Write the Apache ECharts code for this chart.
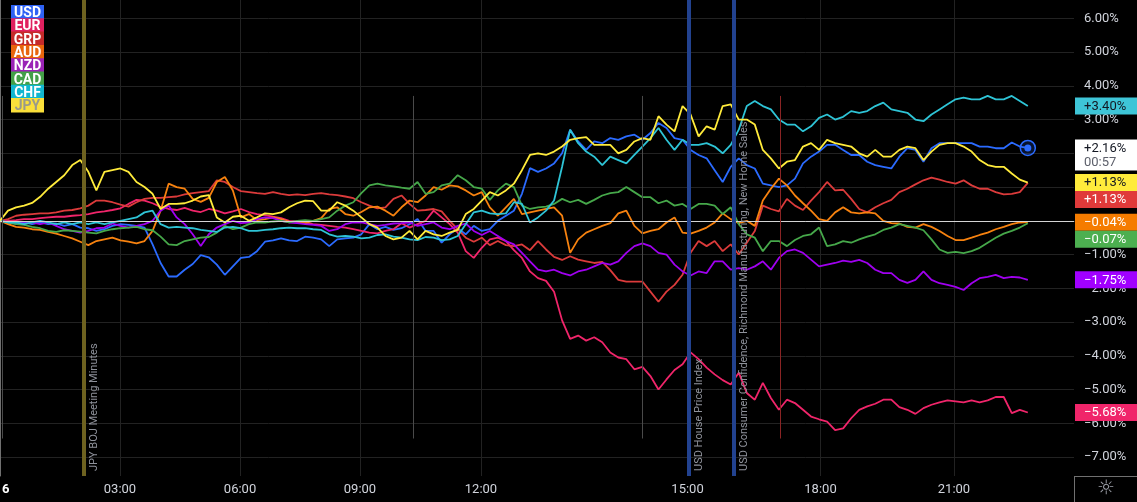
<!DOCTYPE html>
<html><head><meta charset="utf-8">
<script src="https://cdn.jsdelivr.net/npm/echarts@6/dist/echarts.min.js"></script>
<style>html,body{margin:0;padding:0;background:#000;overflow:hidden}#c{width:1137px;height:502px}</style>
</head><body><div id="c"></div>
<script>
// ---- data (percent change, one value per bar) ----
const currencies = ['USD','EUR','GRP','AUD','NZD','CAD','CHF','JPY'];
const usd = [
 0,-0.05,-0.08,-0.05,-0.1,-0.05,-0.1,-0.08,-0.15,-0.1,-0.2,-0.22,-0.3,-0.25,-0.15,-0.1,
 -0.12,-0.15,-0.2,-0.7,-1.25,-1.65,-1.65,-1.45,-1.28,-1.02,-1.08,-1.3,-1.6,-1.35,-1.1,-1.07,
 -0.9,-0.62,-0.58,-0.52,-0.58,-0.6,-0.47,-0.5,-0.55,-0.75,-0.55,-0.52,-0.5,-0.4,-0.1,-0.25,
 -0.18,-0.27,-0.22,-0.1,0.05,-0.3,-0.3,-0.65,-0.4,-0.22,-0.4,-0.15,-0.3,-0.25,0,0.15,
 0.3,0.8,1.56,1.45,1.55,1.7,2.0,2.7,2.35,2.1,2.35,2.3,2.45,2.4,2.5,2.55,
 2.4,2.6,2.9,2.75,2.45,2.4,2.1,1.95,1.85,1.5,1.15,1.6,1.85,1.65,1.55,1.1,
 1.05,1.0,1.05,1.25,1.7,1.9,2.05,2.25,2.25,2.1,1.95,1.95,1.75,1.65,1.6,1.55,
 1.9,2.15,2.1,1.75,2.15,2.3,2.3,2.3,2.3,2.3,2.2,2.2,2.15,2.15,2.32,2.2,
 2.16];
const eur = [
 0,0,0.02,0.05,0.05,0.08,0.1,0.12,0.12,0.15,0.17,0.2,0.25,0.28,0.32,0.37,
 0.5,0.62,0.6,0.52,0.41,0.35,0.32,0.38,0.3,0.26,0.35,0.3,0.22,0.28,0.35,0.26,
 0.2,0.17,0.12,0.08,0,-0.02,-0.07,-0.1,-0.12,-0.15,-0.18,-0.2,-0.25,-0.3,-0.35,-0.37,
 -0.3,-0.25,-0.07,-0.2,-0.1,0,0.3,0.1,-0.1,-0.35,-0.9,-1.1,-0.8,-0.55,-0.5,-0.6,
 -0.87,-1.1,-1.5,-1.7,-1.78,-2.1,-2.95,-3.5,-3.4,-3.55,-3.45,-3.6,-3.9,-4.05,-4.1,-4.4,
 -4.33,-4.6,-5.0,-4.7,-4.42,-4.25,-3.9,-4.1,-4.35,-4.55,-4.72,-4.85,-4.5,-5.1,-5.3,-4.8,
 -5.25,-5.6,-5.3,-5.4,-5.6,-5.8,-5.88,-5.95,-6.2,-6.15,-5.85,-5.6,-5.5,-5.42,-5.3,-5.3,
 -5.52,-5.6,-5.72,-5.55,-5.45,-5.38,-5.32,-5.35,-5.38,-5.32,-5.38,-5.32,-5.22,-5.22,-5.7,-5.6,
 -5.68];
const grp = [
 0,0.05,0.15,0.18,0.2,0.22,0.22,0.25,0.3,0.32,0.37,0.45,0.6,0.6,0.55,0.48,
 0.42,0.55,0.65,0.68,0.68,0.7,0.72,0.78,0.82,0.85,0.88,1.2,1.15,1.0,0.88,0.85,
 0.82,0.8,0.85,0.8,0.76,0.78,0.76,0.8,0.82,0.78,0.76,0.72,0.67,0.55,0.45,0.37,
 0.4,0.65,0.75,0.5,0.3,0.32,0.35,0.28,0,-0.25,-0.5,-0.62,-0.5,-0.72,-0.6,-0.72,
 -0.75,-0.7,-0.87,-0.6,-0.85,-1.07,-1.16,-1.05,-1.15,-1.2,-1.25,-1.22,-1.46,-1.75,-1.8,-1.8,
 -1.8,-2.1,-2.4,-2.1,-1.9,-1.6,-0.95,-0.6,-0.75,-0.6,-0.9,-0.7,-1.0,-0.65,-0.3,0.45,
 0.35,0.28,0.65,0.45,0.32,0.6,0.85,1.15,0.9,0.92,0.65,0.35,0.25,0.4,0.52,0.62,
 0.85,0.95,1.08,1.2,1.28,1.22,1.15,1.1,1.2,1.05,0.95,0.95,0.85,0.78,0.8,0.85,
 1.126];
const aud = [
 0,-0.1,-0.18,-0.2,-0.25,-0.27,-0.33,-0.38,-0.45,-0.52,-0.62,-0.72,-0.6,-0.55,-0.5,-0.58,
 -0.62,-0.67,-0.6,-0.3,0.3,1.1,1.0,0.95,0.65,0.56,0.68,1.15,1.3,0.9,0.1,0.2,
 0.02,0.05,0.1,0.05,-0.03,-0.05,-0.07,0,0.08,0.35,0.4,0.2,0.15,0.26,0.4,0.42,
 0.3,0.15,0.4,0.6,0.55,0.75,1.0,0.92,1.05,1.02,0.9,0.75,0.85,0.4,0.15,0.4,
 0.65,0.2,0.25,0.3,0.35,0.4,0.15,-0.95,-0.55,-0.35,-0.25,-0.15,-0.07,0.22,0.3,-0.15,
 -0.37,-0.3,-0.25,-0.05,0.1,-0.35,-0.38,-0.3,-0.2,-0.05,0.22,0.05,-0.07,0,-0.15,0.6,
 0.95,1.25,1.05,0.75,0.52,0.3,0.05,0,0.25,0.4,0.25,0.22,0.25,0.22,0,-0.07,
 -0.08,-0.18,-0.2,-0.1,-0.18,-0.3,-0.45,-0.57,-0.57,-0.5,-0.42,-0.35,-0.25,-0.18,-0.1,-0.05,
 -0.04];
const nzd = [
 0,-0.03,-0.05,-0.08,-0.05,-0.1,-0.05,-0.15,-0.25,-0.3,-0.35,-0.3,-0.22,-0.2,-0.08,-0.15,
 -0.2,-0.15,-0.1,0,0.3,0.45,0.1,-0.1,-0.4,-0.75,-0.4,-0.2,-0.1,0,-0.07,-0.05,
 0.05,0.1,0.08,0,-0.05,-0.07,-0.1,-0.12,-0.15,-0.3,-0.25,-0.1,-0.05,-0.05,-0.1,-0.15,
 -0.12,-0.08,-0.07,-0.05,-0.15,-0.1,-0.05,-0.2,-0.25,-0.15,-0.08,-0.3,-0.42,-0.3,-0.45,-0.6,
 -0.7,-0.95,-1.2,-1.45,-1.5,-1.45,-1.55,-1.62,-1.5,-1.45,-1.35,-1.25,-1.3,-1.2,-0.95,-0.75,
 -0.67,-0.75,-0.95,-1.0,-1.3,-1.5,-1.62,-1.5,-1.55,-1.2,-1.2,-1.45,-1.4,-1.45,-1.35,-1.2,
 -1.45,-1.1,-0.9,-0.85,-0.95,-1.15,-1.35,-1.3,-1.25,-1.18,-1.22,-1.16,-1.25,-1.45,-1.55,-1.55,
 -1.75,-1.84,-1.75,-1.5,-1.75,-1.85,-1.9,-1.96,-2.05,-1.85,-1.7,-1.66,-1.6,-1.7,-1.66,-1.68,
 -1.75];
const cad = [
 0,-0.05,-0.1,-0.12,-0.18,-0.22,-0.3,-0.33,-0.28,-0.3,-0.32,-0.35,-0.37,-0.3,-0.25,-0.22,
 -0.2,-0.18,-0.25,-0.28,-0.47,-0.7,-0.72,-0.6,-0.55,-0.5,-0.48,-0.35,-0.15,-0.25,-0.2,-0.1,
 -0.05,-0.05,-0.02,0,-0.05,0,0.02,0,0.05,0.1,0.3,0.45,0.55,0.82,1.05,1.1,
 1.05,1.02,0.98,0.95,1.15,0.8,0.85,1.05,1.1,1.35,1.2,1.0,0.95,0.62,0.9,1.1,
 1.0,0.45,0.35,0.4,0.42,0.5,0.65,0.55,0.62,0.5,0.62,0.75,0.82,0.85,1.0,0.85,
 0.7,0.7,0.52,0.6,0.45,0.5,0.35,0.5,0.5,0.45,0.2,0.4,-0.1,-0.4,-0.5,-0.9,
 -0.6,-0.6,-0.75,-0.57,-0.45,-0.4,-0.2,-0.75,-0.7,-0.6,-0.65,-0.55,-0.47,-0.4,-0.27,-0.2,
 -0.1,-0.15,-0.2,-0.28,-0.55,-0.85,-0.95,-0.92,-0.96,-0.9,-0.8,-0.65,-0.5,-0.38,-0.3,-0.2,
 -0.07];
const chf = [
 0,-0.05,-0.05,-0.1,-0.05,0,-0.05,-0.1,-0.05,-0.1,-0.05,-0.1,-0.05,-0.1,-0.05,0,
 0.05,0.1,0.25,0.3,-0.1,-0.2,-0.18,-0.2,-0.22,-0.27,-0.3,-0.33,-0.2,-0.18,-0.22,-0.3,
 -0.3,-0.27,-0.25,-0.22,-0.2,-0.22,-0.22,-0.25,-0.27,-0.4,-0.47,-0.45,-0.47,-0.52,-0.5,-0.42,
 -0.4,-0.47,-0.5,-0.55,-0.57,-0.48,-0.5,-0.57,-0.55,-0.45,-0.1,0.25,0.3,0.22,0.2,0.22,
 0.55,0.5,-0.05,0.1,0.3,0.6,1.6,2.7,2.3,2.05,1.9,1.65,1.9,1.8,1.7,1.95,
 2.2,2.45,2.75,2.4,2.1,2.4,2.25,2.25,2.3,2.2,2.0,2.25,2.7,3.4,3.55,3.4,
 3.3,3.0,2.85,2.85,2.65,2.8,3.05,3.15,3.0,3.08,3.25,3.2,3.25,3.4,3.5,3.3,
 3.25,3.2,3.0,2.95,3.15,3.3,3.45,3.6,3.65,3.6,3.6,3.7,3.6,3.6,3.7,3.55,
 3.40];
const jpy = [
 0,0.3,0.4,0.45,0.53,0.71,0.95,1.15,1.35,1.65,1.8,1.45,0.9,1.45,1.5,1.55,
 1.45,1.15,1.0,0.8,0.35,0.5,0.5,0.52,0.6,0.72,0.76,0.1,-0.05,0.12,0.15,0,
 0.1,0.22,0.2,0.25,0.4,0.52,0.6,0.58,0.3,0.3,0.55,0.45,0.3,0.1,-0.1,-0.2,
 -0.45,-0.55,-0.5,-0.3,-0.55,-0.3,-0.4,-0.45,-0.35,-0.27,0.2,0.35,0.6,0.85,0.75,0.9,
 1.1,1.5,1.95,2.0,1.95,2.05,2.2,2.4,2.45,2.48,2.25,2.25,2.25,2.0,2.1,2.35,
 2.45,2.4,3.1,2.85,2.65,3.4,3.15,2.5,2.8,2.7,3.4,3.45,3.0,3.0,2.85,2.1,
 1.85,1.55,1.75,1.8,2.2,2.3,2.1,2.4,2.3,2.25,2.2,2.0,1.9,2.1,1.9,1.9,
 2.1,2.2,2.15,1.8,2.05,2.25,2.3,2.3,2.2,2.05,1.8,1.65,1.6,1.6,1.4,1.22,
 1.134];
const seriesValues = [usd, eur, grp, aud, nzd, cad, chf, jpy];

// time axis (bar index at which each time label falls)
const tickLabels = ['03:00','06:00','09:00','12:00','15:00','18:00','21:00'];
const tickBars   = [14.94, 29.89, 44.83, 59.9, 85.62, 102.18, 118.8];
const yTicks = [-7,-6,-5,-4,-3,-2,-1,0,1,2,3,4,5,6];
// events (bar index)
const eventBars   = [10.46, 85.8, 91.4];
const eventLabels = ['JPY BOJ Meeting Minutes','USD House Price Index','USD Consumer Confidence, Richmond Manufacturing, New Home Sales'];
const sessionBars = [0.25, 51.43, 79.95];
const redLineBar = 97.13;
const countdown = '00:57';

// ---- styles ----
const lineColors = ['#2b6bff','#f0256a','#dc3b3b','#f7820f','#a000f0','#46a84a','#2ec4d6','#ffeb3b'];
const legendColors = ['#2e62f5','#e0205f','#c42a2a','#e8650c','#9a22b5','#43a047','#12b6cf','#fbe03a'];
const tagBg   = ['#ffffff','#f0256a','#e03a3a','#f57c00','#a100ff','#4caf50','#3ec5d7','#ffeb3b'];
const tagText = ['#131722','#ffffff','#ffffff','#ffffff','#ffffff','#ffffff','#131722','#131722'];

const X_MAX = 133.75, Y_MIN = -7.561, Y_MAX = 6.542;
const FONT = 'Roboto, "Liberation Sans", sans-serif';
const pct = v => (v > 0 ? '+' : v < 0 ? '\u2212' : '') + Math.abs(v).toFixed(2) + '%';
const axisPct = v => (v < 0 ? '\u2212' : '') + Math.abs(v).toFixed(2) + '%';

const chart = echarts.init(document.getElementById('c'));

const lineSeries = currencies.map((c, i) => ({
  name: c, type: 'line', z: 3,
  data: seriesValues[i].map((v, k) => [k, v]),
  showSymbol: false, symbol: 'none', animation: false,
  lineStyle: { color: lineColors[i], width: 1.8 },
  itemStyle: { color: lineColors[i] }
}));
const last = usd.length - 1;
lineSeries[0].markPoint = {
  silent: true, animation: false, label: { show: false },
  data: [
    { coord: [last, usd[last]], symbol: 'circle', symbolSize: 15,
      itemStyle: { color: 'rgba(43,107,255,0.18)', borderColor: '#2b6bff', borderWidth: 1.5 } },
    { coord: [last, usd[last]], symbol: 'circle', symbolSize: 7, itemStyle: { color: '#2b6bff' } }
  ]
};

const markData = [
  { yAxis: 0, lineStyle: { color: '#d4d4d4', width: 1, type: 'solid' } },
  { xAxis: eventBars[0], lineStyle: { color: '#6e6220', width: 4, type: 'solid' } },
  { xAxis: eventBars[1], lineStyle: { color: '#22428f', width: 4, type: 'solid' } },
  { xAxis: eventBars[2], lineStyle: { color: '#22428f', width: 4, type: 'solid' } },
  ...sessionBars.map(b => [{ coord: [b, 3.7], lineStyle: { color: '#4a4a4a', width: 1, type: 'solid' } }, { coord: [b, -6.45] }]),
  [{ coord: [redLineBar, 3.7], lineStyle: { color: '#8a2424', width: 1, type: 'solid' } }, { coord: [redLineBar, -6.45] }]
];

const option = {
  backgroundColor: '#000000',
  animation: false,
  grid: { left: 0, right: 63, top: 0, bottom: 26, containLabel: false },
  xAxis: {
    type: 'value', min: 0, max: X_MAX,
    axisLine: { show: true, lineStyle: { color: '#707070' } },
    axisTick: { show: false, customValues: tickBars },
    axisLabel: { customValues: tickBars, color: '#d1d4dc', fontSize: 13, fontFamily: FONT, margin: 7,
      formatter: v => { const k = tickBars.findIndex(t => Math.abs(t - v) < 1e-6); return k >= 0 ? tickLabels[k] : ''; } },
    splitLine: { show: true, lineStyle: { color: '#222222' } }
  },
  yAxis: {
    type: 'value', position: 'right', min: Y_MIN, max: Y_MAX,
    axisLine: { show: true, lineStyle: { color: '#707070' } },
    axisTick: { show: false, customValues: yTicks },
    axisLabel: { customValues: yTicks, color: '#d1d4dc', fontSize: 13, fontFamily: FONT, margin: 10, formatter: axisPct },
    splitLine: { show: true, lineStyle: { color: '#222222' } }
  },
  series: [
    { type: 'line', data: [], z: 1, silent: true,
      markLine: { silent: true, animation: false, symbol: ['none', 'none'], label: { show: false }, data: markData } },
    ...lineSeries
  ]
};
chart.setOption(option);

// ---- overlay graphics (legend, price tags, event labels) ----
const px = (bar, val) => chart.convertToPixel({ gridIndex: 0 }, [bar, val]);
const g = [];
// legend
currencies.forEach((c, i) => {
  const top = 5 + i * 13.3;
  g.push({ type: 'rect', z: 100, shape: { x: 11, y: top, width: 33, height: 14.5 }, style: { fill: legendColors[i] } });
  g.push({ type: 'text', z: 100, style: { x: 27.5, y: top + 8.5, text: c, fill: c === 'JPY' ? '#9a9a8a' : '#ffffff',
    font: 'bold 14px ' + FONT, textAlign: 'center', textVerticalAlign: 'middle' } });
});
// event labels
eventLabels.forEach((t, i) => {
  const x = px(eventBars[i], 0)[0] + 10;
  g.push({ type: 'text', z: 50, x: x, y: 471, rotation: Math.PI / 2,
    style: { x: 0, y: 0, text: t, fill: '#8f929b', font: '11px ' + FONT, textAlign: 'left', textVerticalAlign: 'middle' } });
});
// price tags
const tags = currencies.map((c, i) => ({ c, i, v: seriesValues[i][seriesValues[i].length - 1] }))
  .sort((a, b) => b.v - a.v);
let prevBottom = -1e9;
tags.forEach(t => {
  const y = px(0, t.v)[1];
  const h = t.c === 'USD' ? 31 : 17;
  const top = Math.max(y - 8.5, prevBottom);
  prevBottom = top + h;
  g.push({ type: 'rect', z: 120, shape: { x: 1075, y: top, width: 62, height: h }, style: { fill: tagBg[t.i] } });
  g.push({ type: 'text', z: 121, style: { x: 1084, y: top + 9, text: pct(t.v), fill: tagText[t.i], font: '13px ' + FONT, textVerticalAlign: 'middle' } });
  if (t.c === 'USD') {
    g.push({ type: 'text', z: 121, style: { x: 1084, y: top + 23, text: countdown, fill: '#5d606b', font: '13px ' + FONT, textVerticalAlign: 'middle' } });
  }
});
// axis decorations
g.push({ type: 'line', z: 90, shape: { x1: 1074.5, y1: 476, x2: 1074.5, y2: 502 }, style: { stroke: '#707070', lineWidth: 1 } });
g.push({ type: 'line', z: 90, shape: { x1: 1074, y1: 476.5, x2: 1137, y2: 476.5 }, style: { stroke: '#707070', lineWidth: 1 } });
g.push({ type: 'text', z: 100, style: { x: 2, y: 490, text: '6', fill: '#ffffff', font: 'bold 13px ' + FONT, textVerticalAlign: 'middle' } });
g.push({ type: 'text', z: 100, style: { x: 1106, y: 489, text: '\u263C', fill: '#9ea1aa', font: '20px "DejaVu Sans"', textAlign: 'center', textVerticalAlign: 'middle' } });

chart.setOption({ graphic: { elements: g } });
</script></body></html>
